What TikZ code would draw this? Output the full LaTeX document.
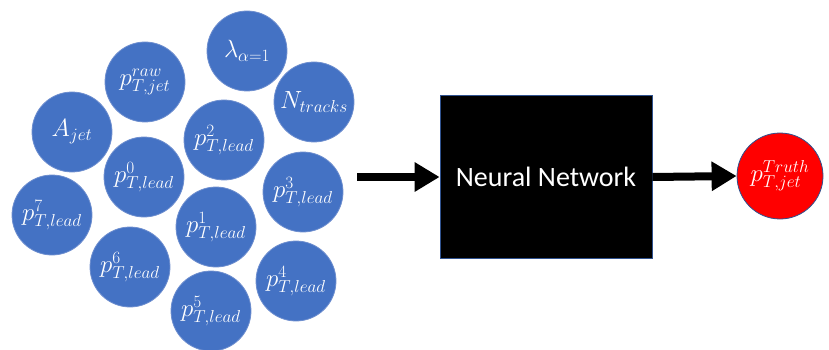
\documentclass[tikz,border=0pt]{standalone}
\usepackage{fontspec}
\newfontfamily\netfont{Carlito}
\DeclareMathSizes{25}{25}{19}{15}
\usetikzlibrary{arrows.meta}
\definecolor{featblue}{HTML}{4472C4}
\definecolor{featedge}{HTML}{6F8FCF}
\definecolor{edgeblue}{HTML}{2F528F}
\begin{document}
\begin{tikzpicture}[
    x=1pt, y=-1pt,
    feature/.style={circle, fill=featblue, draw=featedge, line width=0.8pt, minimum size=80pt, inner sep=0pt, text=white, font=\fontsize{25}{29}\selectfont},
    target/.style={circle, fill=red, draw=edgeblue, line width=0.8pt, minimum size=86pt, inner sep=0pt, text=white, font=\fontsize{25}{29}\selectfont},
    net/.style={draw=edgeblue, fill=black, line width=0.8pt, minimum width=212pt, minimum height=163pt, text=white, font=\netfont\fontsize{28}{33}\selectfont},
    arrow/.style={-{Triangle[length=25pt, width=28pt]}, line width=8pt}
]
\useasboundingbox (0,0) rectangle (829,350);
% Input features
\node[feature] (raw) at (145,82) {$p_{T,jet}^{raw}$};
\node[feature] (lambda) at (247,51) {$\lambda_{\alpha=1}$};
\node[feature] (ntrk) at (314,102) {$N_{tracks}$};
\node[feature] (area) at (72,132) {$A_{jet}$};
\node[feature] (lead2) at (224,140) {$p_{T,lead}^{2}$};
\node[feature] (lead0) at (144,177) {$p_{T,lead}^{0}$};
\node[feature] (lead3) at (303,192) {$p_{T,lead}^{3}$};
\node[feature] (lead7) at (52,215) {$p_{T,lead}^{7}$};
\node[feature] (lead1) at (216,227) {$p_{T,lead}^{1}$};
\node[feature] (lead6) at (130,267) {$p_{T,lead}^{6}$};
\node[feature] (lead4) at (296,281) {$p_{T,lead}^{4}$};
\node[feature] (lead5) at (211,311) {$p_{T,lead}^{5}$};
% Network and output
\node[net] (nn) at (546,177) {Neural Network};
\node[target] (truth) at (780,176) {$p_{T,jet}^{Truth}$};
\coordinate (in) at (357,177);
% Arrows
\draw[arrow] (in) -- (nn.west);
\draw[arrow] (nn.east) -- (truth.west);
\end{tikzpicture}
\end{document}
